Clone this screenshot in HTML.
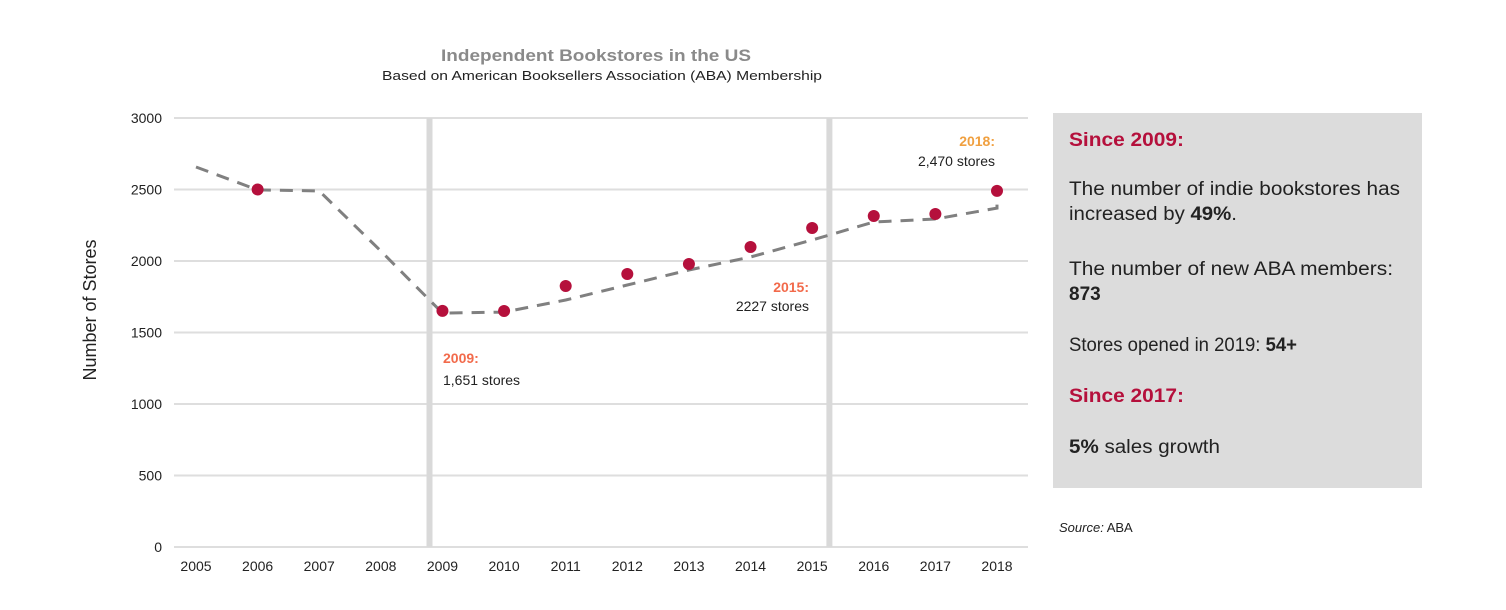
<!DOCTYPE html>
<html><head><meta charset="utf-8"><style>
html,body{margin:0;padding:0;background:#fff;}
svg{display:block;font-family:"Liberation Sans",sans-serif;}
</style></head><body>
<svg id="chart" width="1506" height="610" viewBox="0 0 1506 610">
<g>
<text x="596" y="61" text-anchor="middle" font-size="17" font-weight="bold" fill="#8a8a8a" textLength="310" lengthAdjust="spacingAndGlyphs">Independent Bookstores in the US</text>
<text x="602" y="80" text-anchor="middle" font-size="13" fill="#222" textLength="440" lengthAdjust="spacingAndGlyphs">Based on American Booksellers Association (ABA) Membership</text>
</g>
<g id="grid"></g>
<g id="yticks"></g>
<g id="xticks"></g>
<text transform="translate(96,310) rotate(-90)" text-anchor="middle" font-size="18" fill="#222">Number of Stores</text>
<g id="marks"></g>
<g>
<text x="443" y="363" font-size="14" font-weight="bold" fill="#f26a4b">2009:</text>
<text x="443" y="385" font-size="14" fill="#222">1,651 stores</text>
<text x="809" y="292" text-anchor="end" font-size="14" font-weight="bold" fill="#f26a4b">2015:</text>
<text x="809" y="311" text-anchor="end" font-size="14" fill="#222">2227 stores</text>
<text x="995" y="146" text-anchor="end" font-size="14" font-weight="bold" fill="#f0a040">2018:</text>
<text x="995" y="166" text-anchor="end" font-size="14" fill="#222">2,470 stores</text>
</g>
<g>
<rect x="1053" y="113" width="369" height="375" fill="#dcdcdc"/>
<text x="1069" y="146" font-size="19" font-weight="bold" fill="#b5103c" textLength="115" lengthAdjust="spacingAndGlyphs">Since 2009:</text>
<text x="1069" y="195" font-size="19" fill="#222" textLength="331" lengthAdjust="spacingAndGlyphs">The number of indie bookstores has</text>
<text x="1069" y="220" font-size="19" fill="#222" textLength="168" lengthAdjust="spacingAndGlyphs">increased by <tspan font-weight="bold">49%</tspan>.</text>
<text x="1069" y="275" font-size="19" fill="#222" textLength="324" lengthAdjust="spacingAndGlyphs">The number of new ABA members:</text>
<text x="1069" y="300" font-size="19" font-weight="bold" fill="#222">873</text>
<text x="1069" y="351" font-size="19" fill="#222" textLength="228" lengthAdjust="spacingAndGlyphs">Stores opened in 2019: <tspan font-weight="bold">54+</tspan></text>
<text x="1069" y="402" font-size="19" font-weight="bold" fill="#b5103c" textLength="115" lengthAdjust="spacingAndGlyphs">Since 2017:</text>
<text x="1069" y="453" font-size="19" fill="#222" textLength="151" lengthAdjust="spacingAndGlyphs"><tspan font-weight="bold">5%</tspan> sales growth</text>
</g>
<text x="1059" y="532" font-size="13" fill="#222"><tspan font-style="italic">Source:</tspan> ABA</text>
</svg>
<script>
const years = [2005,2006,2007,2008,2009,2010,2011,2012,2013,2014,2015,2016,2017,2018];
const storeCounts = [null,2500,null,null,1651,1650,1825,1909,1979,2098,2231,2315,2329,2490];
const trendValues = [2657,2497,2490,2070,1636,1643,1727,1832,1937,2028,2147,2273,2294,2370];
const yTicks = [0,500,1000,1500,2000,2500,3000];
const highlightYears = [2008.79,2015.28];
const NS='http://www.w3.org/2000/svg';
const xS=v=>196+(v-2005)*(997-196)/13;
const yS=v=>547-v*(547-118)/3000;
function mk(tag,attrs,parent){const e=document.createElementNS(NS,tag);for(const k in attrs)e.setAttribute(k,attrs[k]);parent.appendChild(e);return e;}
const grid=document.getElementById('grid'),yt=document.getElementById('yticks'),xt=document.getElementById('xticks'),marks=document.getElementById('marks');
yTicks.forEach(t=>{
 const l=mk('line',{x1:174,x2:1028,y1:yS(t),y2:yS(t),stroke:'#dedede','stroke-width':2},grid);
 
 
 const tx=mk('text',{x:162,y:yS(t)+5,'text-anchor':'end','font-size':14,fill:'#222'},yt);
 tx.textContent=t;
 
 
});
years.forEach(y=>{
 const tx=mk('text',{x:xS(y),y:571,'text-anchor':'middle','font-size':14,fill:'#222'},xt);
 tx.textContent=y;
 
 
});
highlightYears.forEach(y=>{
 const r=mk('rect',{x:xS(y)-3,y:118,width:6,height:429,fill:'#d9d9d9'},grid);
 
 
});
let d=trendValues.map((v,i)=>(i?'L':'M')+xS(years[i]).toFixed(1)+','+yS(v).toFixed(1)).join(' ');
d+=' L'+xS(2018).toFixed(1)+','+yS(storeCounts[13]).toFixed(1);
const p=mk('path',{d:d,fill:'none',stroke:'#808080','stroke-width':3,'stroke-dasharray':'13,9'},marks);


storeCounts.forEach((v,i)=>{
 if(v==null)return;
 const c=mk('circle',{cx:xS(years[i]),cy:yS(v),r:6,fill:'#b5103c'},marks);
 
 
});
</script>
</body></html>
